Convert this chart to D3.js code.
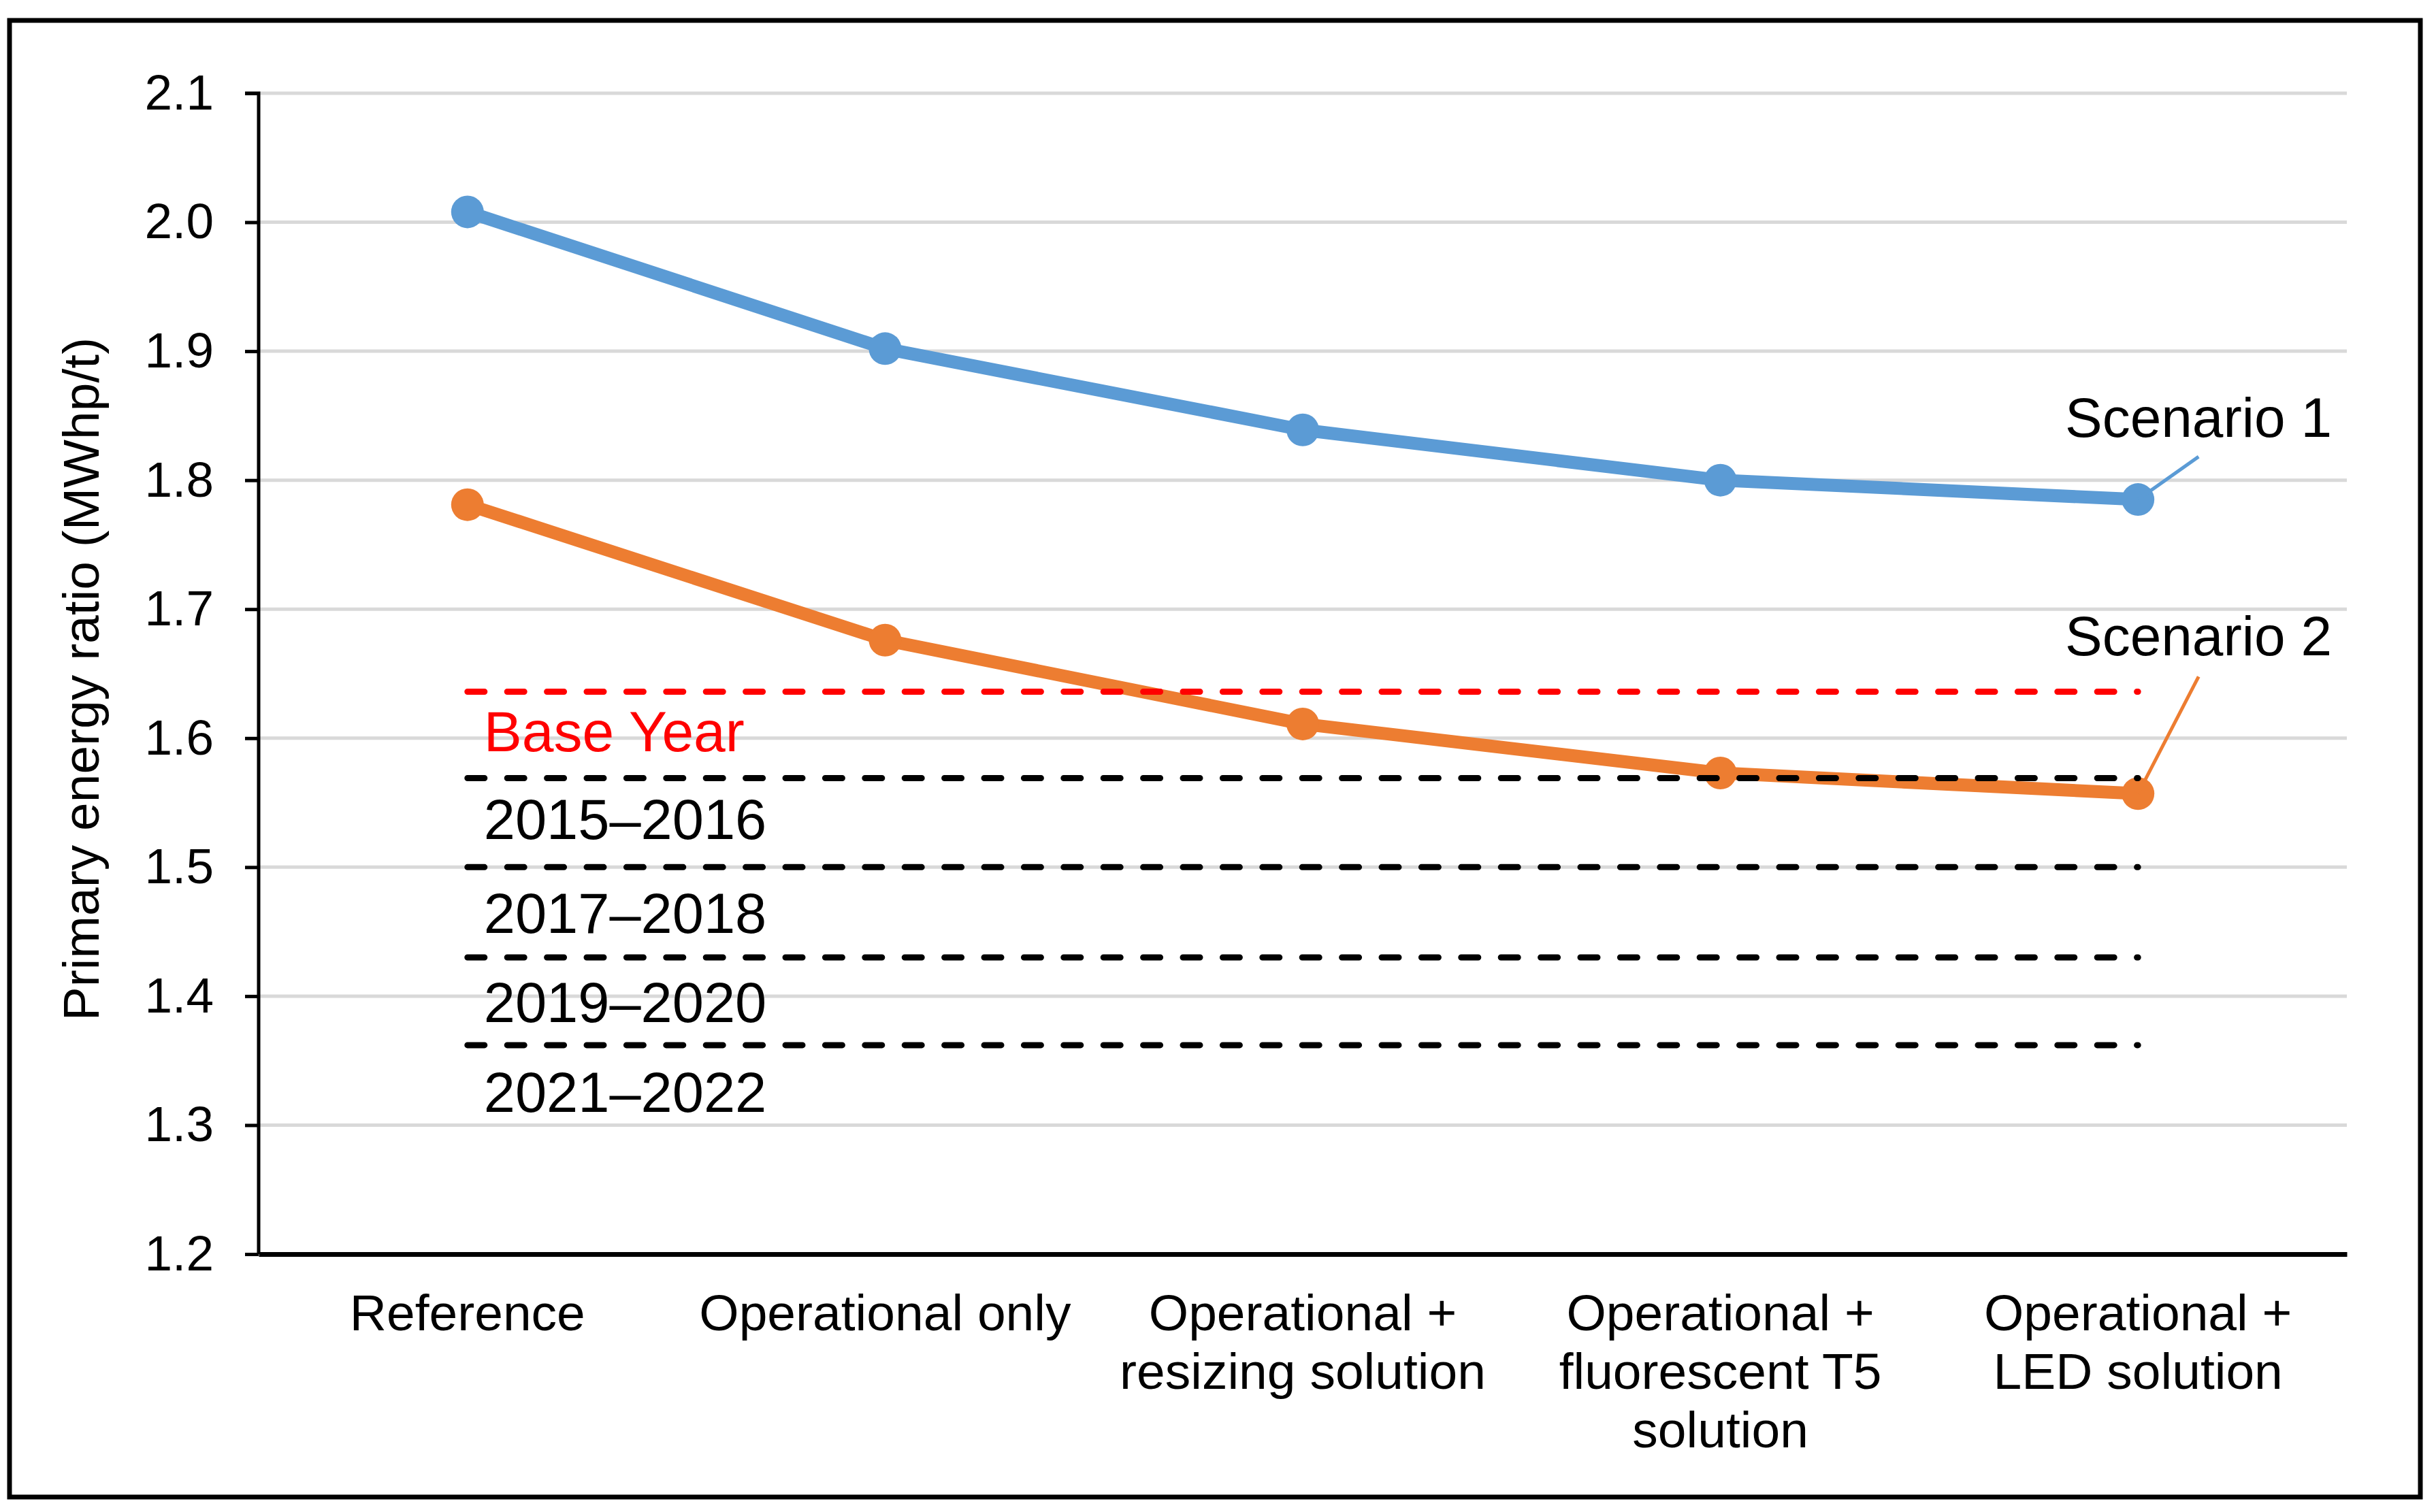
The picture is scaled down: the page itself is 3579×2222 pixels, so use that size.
<!DOCTYPE html>
<html>
<head>
<meta charset="utf-8">
<script src="https://cdn.jsdelivr.net/npm/d3@7"></script>
<style>
    body { margin: 0; background: #ffffff; }
    text { font-family: 'Liberation Sans', Arial, sans-serif; }
</style>
</head>
<body>
<div id="my_dataviz"></div>
<script>
// categories and series
const categories = [
    ['Reference'],
    ['Operational only'],
    ['Operational +', 'resizing solution'],
    ['Operational +', 'fluorescent T5', 'solution'],
    ['Operational +', 'LED solution']
];
const scenario1 = [2.008, 1.902, 1.839, 1.800, 1.785];
const scenario2 = [1.781, 1.676, 1.611, 1.573, 1.557];
const seriesNames = ['Scenario 1', 'Scenario 2'];

// horizontal target lines
const targetLabels = ['Base Year', '2015\u20132016', '2017\u20132018', '2019\u20132020', '2021\u20132022'];
const targetValues = [1.636, 1.569, 1.500, 1.430, 1.362];

const yTicks = [1.2, 1.3, 1.4, 1.5, 1.6, 1.7, 1.8, 1.9, 2.0, 2.1];

////////////////////////////////////////////////////////
const W = 3579, H = 2222;
const margin = {top: 137, right: 131, bottom: 379, left: 380};
const width = W - margin.left - margin.right;
const height = H - margin.top - margin.bottom;

const svgRoot = d3.select('#my_dataviz')
    .append('svg')
        .attr('width', W)
        .attr('height', H);

// outer frame
svgRoot.append('rect')
    .attr('x', 14).attr('y', 30)
    .attr('width', 3542).attr('height', 2170)
    .attr('fill', 'none')
    .attr('stroke', '#000')
    .attr('stroke-width', 7);

const svg = svgRoot.append('g')
    .attr('transform', 'translate(' + margin.left + ',' + margin.top + ')');

const x = d3.scaleBand()
    .domain(d3.range(categories.length))
    .range([0, width]);

const y = d3.scaleLinear()
    .domain([1.2, 2.1])
    .range([height, 0]);

const cx = i => x(i) + x.bandwidth() / 2;

// gridlines
svg.append('g')
    .selectAll('line')
    .data(yTicks.slice(1))
    .enter().append('line')
    .attr('x1', 0).attr('x2', width)
    .attr('y1', d => y(d)).attr('y2', d => y(d))
    .attr('stroke', '#d9d9d9')
    .attr('stroke-width', 5);

// y axis
const yAxis = svg.append('g')
    .call(d3.axisLeft(y).tickValues(yTicks).tickFormat(d3.format('.1f')).tickSize(20).tickPadding(46));
yAxis.select('.domain').attr('stroke-width', 5).attr('d', 'M-20,' + y(2.1) + 'H0V' + height);
yAxis.selectAll('.tick line').attr('stroke-width', 5);
yAxis.selectAll('.tick text')
    .style('font-size', '73px')
    .style('font-family', "'Liberation Sans', Arial, sans-serif")
    .attr('fill', '#000');

// x axis
const xAxis = svg.append('g')
    .attr('transform', 'translate(0,' + height + ')')
    .call(d3.axisBottom(x).tickSize(0).tickFormat(''));
xAxis.select('.domain').attr('stroke-width', 7);

// category labels
const catText = svg.append('g')
    .selectAll('text')
    .data(categories)
    .enter().append('text')
    .attr('x', (d, i) => cx(i))
    .attr('y', height + 112)
    .attr('text-anchor', 'middle')
    .style('font-size', '75px')
    .attr('fill', '#000');
catText.selectAll('tspan')
    .data(d => d)
    .enter().append('tspan')
    .attr('x', function () { return d3.select(this.parentNode).attr('x'); })
    .attr('dy', (d, i) => i === 0 ? 0 : 86)
    .text(d => d);

// y axis title
svgRoot.append('text')
    .attr('transform', 'translate(145,' + (margin.top + height / 2 + 8) + ') rotate(-90)')
    .attr('text-anchor', 'middle')
    .style('font-size', '75px')
    .attr('fill', '#000')
    .text('Primary energy ratio (MWhp/t)');

// series lines
const colors = ['#5b9bd5', '#ed7d31'];
const series = [scenario1, scenario2];
const line = d3.line()
    .x((d, i) => cx(i))
    .y(d => y(d));

series.forEach(function (s, k) {
    svg.append('path')
        .datum(s)
        .attr('d', line)
        .attr('fill', 'none')
        .attr('stroke', colors[k])
        .attr('stroke-width', 19)
        .attr('stroke-linejoin', 'round');
    svg.selectAll('.dot' + k)
        .data(s)
        .enter().append('circle')
        .attr('class', 'dot' + k)
        .attr('cx', (d, i) => cx(i))
        .attr('cy', d => y(d))
        .attr('r', 24)
        .attr('fill', colors[k]);
});

// target dashed lines + labels
const last = categories.length - 1;
const labelDy = [87, 89, 97, 95, 98];
targetValues.forEach(function (v, k) {
    const c = k === 0 ? '#ff0000' : '#000000';
    svg.append('line')
        .attr('x1', cx(0)).attr('x2', cx(last))
        .attr('y1', y(v)).attr('y2', y(v))
        .attr('stroke', c)
        .attr('stroke-width', 9)
        .attr('stroke-linecap', 'round')
        .attr('stroke-dasharray', '25 33.4');
    svg.append('text')
        .attr('x', cx(0) + 24)
        .attr('y', y(v) + labelDy[k])
        .style('font-size', k === 0 ? '84px' : '83px')
        .attr('fill', c)
        .text(targetLabels[k]);
});

// scenario labels with leader lines
const leaderEnd = [[89, -63], [89, -172]];
const labelY = [642, 963];
series.forEach(function (s, k) {
    const px = cx(last), py = y(s[last]);
    svg.append('line')
        .attr('x1', px).attr('y1', py)
        .attr('x2', px + leaderEnd[k][0]).attr('y2', py + leaderEnd[k][1])
        .attr('stroke', colors[k])
        .attr('stroke-width', 5);
    svg.append('text')
        .attr('x', 3426 - margin.left)
        .attr('y', labelY[k] - margin.top)
        .attr('text-anchor', 'end')
        .style('font-size', '82px')
        .attr('fill', '#000')
        .text(seriesNames[k]);
});
</script>
</body>
</html>
